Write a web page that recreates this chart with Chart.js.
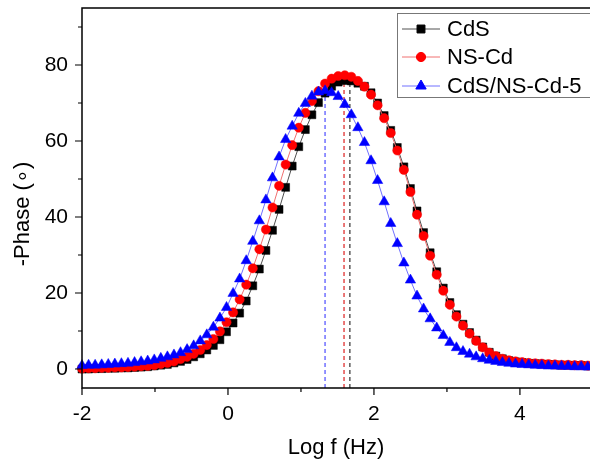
<!DOCTYPE html>
<html>
<head>
<meta charset="utf-8">
<script src="https://cdn.jsdelivr.net/npm/chart.js@4.4.0/dist/chart.umd.min.js"></script>
<style>
  html, body { margin: 0; padding: 0; background: #fff; }
  #wrap { width: 590px; height: 467px; }
</style>
</head>
<body>
<div id="wrap"><canvas id="phase" width="590" height="467"></canvas></div>
<script>
// log10 of frequency (Hz)
const logF = [
  -2.00, -1.91, -1.82, -1.73, -1.64, -1.55, -1.46, -1.37, -1.28, -1.19,
  -1.10, -1.01, -0.92, -0.83, -0.74, -0.65, -0.56, -0.47, -0.38, -0.29,
  -0.20, -0.11, -0.02, 0.07, 0.16, 0.25, 0.34, 0.43, 0.52, 0.61,
  0.70, 0.79, 0.88, 0.97, 1.06, 1.15, 1.24, 1.33, 1.42, 1.51,
  1.60, 1.69, 1.78, 1.87, 1.96, 2.05, 2.14, 2.23, 2.32, 2.41,
  2.50, 2.59, 2.68, 2.77, 2.86, 2.95, 3.04, 3.13, 3.22, 3.31,
  3.40, 3.49, 3.58, 3.67, 3.76, 3.85, 3.94, 4.03, 4.12, 4.21,
  4.30, 4.39, 4.48, 4.57, 4.66, 4.75, 4.84, 4.93
];

// -phase (degrees)
const cdsPhase = [
  0.0, 0.0, 0.1, 0.1, 0.2, 0.2, 0.3, 0.3, 0.4, 0.5,
  0.6, 0.8, 1.0, 1.2, 1.6, 2.0, 2.5, 3.2, 4.0, 5.0,
  6.2, 7.7, 9.8, 12.1, 14.7, 17.9, 21.9, 26.3, 31.2, 36.5,
  42.0, 47.8, 53.4, 58.5, 63.0, 66.9, 70.1, 72.6, 74.4, 75.5,
  75.9, 75.8, 75.2, 74.4, 72.7, 70.0, 66.7, 62.8, 58.3, 53.2,
  47.5, 41.6, 35.9, 30.6, 25.6, 21.3, 17.5, 14.3, 11.8, 9.6,
  7.6, 5.8, 4.4, 3.4, 2.7, 2.2, 1.9, 1.7, 1.5, 1.4,
  1.3, 1.2, 1.1, 1.0, 1.0, 0.9, 0.9, 0.8
];
const nsCdPhase = [
  0.1, 0.2, 0.2, 0.3, 0.3, 0.4, 0.4, 0.5, 0.6, 0.7,
  0.8, 1.0, 1.3, 1.6, 2.0, 2.6, 3.2, 4.0, 5.0, 6.3,
  7.9, 9.9, 12.3, 14.9, 18.3, 22.2, 26.5, 31.5, 36.7, 42.5,
  48.2, 53.8, 58.9, 63.5, 67.4, 70.5, 73.1, 75.1, 76.4, 77.1,
  77.3, 76.9, 75.8, 74.3, 72.2, 69.4, 66.0, 62.1, 57.5, 52.4,
  46.6, 40.6, 35.0, 29.8, 24.8, 20.6, 16.9, 13.8, 11.4, 9.3,
  7.4, 5.7, 4.3, 3.4, 2.7, 2.3, 2.0, 1.8, 1.6, 1.5,
  1.4, 1.3, 1.2, 1.1, 1.1, 1.0, 1.0, 0.9
];
const compositePhase = [
  0.9, 1.0, 1.0, 1.1, 1.2, 1.3, 1.4, 1.5, 1.7, 1.9,
  2.1, 2.4, 2.8, 3.2, 3.7, 4.3, 5.1, 6.1, 7.4, 9.0,
  11.0, 13.4, 16.2, 19.9, 23.7, 28.5, 33.6, 39.0, 44.5, 50.3,
  55.8, 60.4, 63.9, 67.3, 69.9, 71.8, 72.9, 73.2, 72.7, 71.7,
  69.6, 66.9, 63.5, 59.6, 54.8, 49.6, 44.0, 38.3, 33.0, 27.9,
  23.4, 19.2, 15.8, 13.2, 10.8, 8.8, 7.0, 5.6, 4.6, 3.9,
  3.2, 2.7, 2.3, 2.0, 1.7, 1.5, 1.3, 1.2, 1.1, 1.0,
  0.9, 0.8, 0.8, 0.7, 0.7, 0.6, 0.6, 0.5
];

const seriesNames = ['CdS', 'NS-Cd', 'CdS/NS-Cd-5'];
// peak frequency markers (dashed drop lines)
const peakLogF = [1.67, 1.59, 1.33];
const peakPhase = [75.9, 77.3, 73.2];

const xTicks = [-2, -1, 0, 1, 2, 3, 4];
const yTicks = [0, 10, 20, 30, 40, 50, 60, 70, 80, 90];
const xMin = -2, xMax = 4.96, yMin = -5, yMax = 95;

const FONT = '"Liberation Sans", Arial, sans-serif';

const styles = [
  { marker: '#000000', line: '#505050', dash: '#404040', shape: 'rect', r: 5.6 },
  { marker: '#ff0000', line: '#f07070', dash: '#e03030', shape: 'circle', r: 4.6 },
  { marker: '#0000ff', line: '#7070ff', dash: '#5a5aff', shape: 'triangle', r: 6 }
];
const phases = [cdsPhase, nsCdPhase, compositePhase];

const toPoints = (ys) => logF.map((x, i) => ({ x: x, y: ys[i] }));

const datasets = phases.map((ys, i) => ({
  label: seriesNames[i],
  data: toPoints(ys),
  borderColor: styles[i].line,
  borderWidth: 1,
  backgroundColor: styles[i].marker,
  pointStyle: styles[i].shape,
  pointRadius: styles[i].r,
  pointBackgroundColor: styles[i].marker,
  pointBorderColor: styles[i].marker,
  pointBorderWidth: 0.5,
  tension: 0,
  clip: 8,
  order: 3 - i
}));

peakLogF.forEach((x, i) => {
  datasets.push({
    label: 'peak ' + seriesNames[i],
    data: [{ x: x, y: yMin }, { x: x, y: peakPhase[i] }],
    borderColor: styles[i].dash,
    borderWidth: 1.3,
    borderDash: [4, 3],
    pointRadius: 0,
    order: 10
  });
});

// axes frame, tick marks, titles and legend
const frame = {
  id: 'frame',
  afterDraw(chart) {
    const { ctx, chartArea: a, scales: { x, y } } = chart;
    ctx.save();
    ctx.strokeStyle = '#000';
    ctx.lineWidth = 1.5;
    ctx.beginPath();
    ctx.moveTo(a.right + 2, a.top);
    ctx.lineTo(a.left, a.top);
    ctx.lineTo(a.left, a.bottom);
    ctx.lineTo(a.right + 2, a.bottom);
    ctx.stroke();

    ctx.lineWidth = 1.2;
    ctx.beginPath();
    yTicks.forEach(v => {
      const py = y.getPixelForValue(v);
      const len = v % 20 === 0 ? 7 : 4;
      ctx.moveTo(a.left, py);
      ctx.lineTo(a.left - len, py);
    });
    xTicks.forEach(v => {
      const px = x.getPixelForValue(v);
      const len = v % 2 === 0 ? 7 : 4;
      ctx.moveTo(px, a.bottom);
      ctx.lineTo(px, a.bottom + len);
    });
    ctx.stroke();

    // axis titles
    ctx.fillStyle = '#000';
    ctx.font = '22px ' + FONT;
    ctx.textAlign = 'center';
    ctx.textBaseline = 'middle';
    ctx.fillText('Log f (Hz)', 336, 448);
    ctx.save();
    ctx.translate(23, 214);
    ctx.rotate(-Math.PI / 2);
    ctx.fillText('-Phase (\u2218)', 0, 0);
    ctx.restore();

    // legend
    const bx = 397.5, by = 13.5, bw = 200, bh = 84;
    ctx.fillStyle = '#fff';
    ctx.fillRect(bx, by, bw, bh);
    ctx.strokeStyle = '#777';
    ctx.lineWidth = 1;
    ctx.strokeRect(bx, by, bw, bh);
    const rows = [29, 57, 86];
    seriesNames.forEach((name, i) => {
      const ry = rows[i];
      ctx.strokeStyle = styles[i].line;
      ctx.lineWidth = 1;
      ctx.beginPath();
      ctx.moveTo(402, ry);
      ctx.lineTo(440, ry);
      ctx.stroke();
      ctx.fillStyle = styles[i].marker;
      ctx.strokeStyle = styles[i].marker;
      Chart.helpers.drawPoint(ctx, {
        pointStyle: styles[i].shape,
        radius: styles[i].r,
        borderWidth: 0.5,
        rotation: 0
      }, 421, ry);
      ctx.fillStyle = '#000';
      ctx.font = '22px ' + FONT;
      ctx.textAlign = 'left';
      ctx.textBaseline = 'middle';
      ctx.fillText(name, 447, ry + 1);
    });
    ctx.restore();
  }
};

new Chart(document.getElementById('phase'), {
  type: 'line',
  data: { datasets: datasets },
  plugins: [frame],
  options: {
    responsive: false,
    devicePixelRatio: 1,
    animation: false,
    layout: { autoPadding: false, padding: { top: 8, right: 0, left: 0, bottom: 0 } },
    plugins: { legend: { display: false }, tooltip: { enabled: false } },
    scales: {
      x: {
        type: 'linear',
        min: xMin,
        max: xMax,
        afterBuildTicks: s => { s.ticks = xTicks.map(v => ({ value: v })); },
        afterFit: s => { s.height = 79; s.paddingLeft = 0; s.paddingRight = 0; },
        grid: { display: false, drawTicks: false },
        border: { display: false },
        ticks: {
          autoSkip: false,
          maxRotation: 0,
          padding: 14,
          color: '#000',
          font: { size: 21, family: FONT },
          callback: v => (v % 2 === 0 ? String(v) : '')
        }
      },
      y: {
        type: 'linear',
        min: yMin,
        max: yMax,
        afterBuildTicks: s => { s.ticks = yTicks.map(v => ({ value: v })); },
        afterFit: s => { s.width = 82; s.paddingTop = 0; s.paddingBottom = 0; },
        grid: { display: false, drawTicks: false },
        border: { display: false },
        ticks: {
          autoSkip: false,
          padding: 14,
          color: '#000',
          font: { size: 21, family: FONT },
          callback: v => (v % 20 === 0 ? String(v) : '')
        }
      }
    }
  }
});
</script>
</body>
</html>
